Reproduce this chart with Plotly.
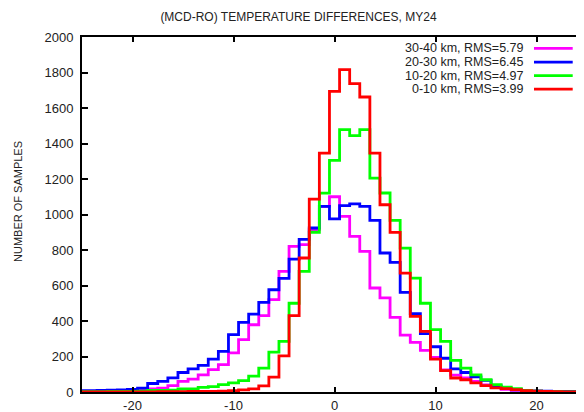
import plotly.graph_objects as go

bins = list(range(-25, 26))

km30_40 = [4, 4, 5, 5, 6, 7, 9, 17, 22, 36, 60, 73, 97, 126, 154, 220, 295, 379, 430, 520,
           680, 820, 830, 915, 1046, 1100, 990, 877, 792, 586, 530, 420, 320, 280, 235, 195,
           125, 95, 80, 60, 40, 25, 15, 10, 6, 4, 3, 2, 2, 1, 1]
km20_30 = [8, 8, 9, 10, 12, 14, 22, 48, 60, 80, 110, 130, 150, 185, 229, 323, 392, 439, 505, 576,
           640, 749, 860, 924, 1046, 975, 1050, 1060, 1046, 967, 783, 730, 561, 441, 329, 255,
           190, 130, 110, 85, 65, 35, 20, 12, 8, 6, 5, 4, 3, 3, 3]
km10_20 = [2, 2, 2, 3, 3, 4, 5, 9, 9, 10, 17, 18, 26, 30, 41, 51, 64, 90, 135, 225,
           285, 500, 680, 900, 1120, 1305, 1478, 1444, 1478, 1205, 1121, 967, 811, 642, 500, 351,
           285, 178, 135, 97, 69, 41, 28, 19, 9, 5, 3, 2, 1, 1, 1]
km0_10 = [1, 1, 1, 1, 1, 1, 1, 1, 2, 2, 2, 3, 3, 3, 5, 8, 12, 18, 35, 84,
          204, 430, 755, 1087, 1346, 1694, 1816, 1737, 1662, 1346, 1055, 899, 670, 426, 342, 185,
          120, 79, 69, 51, 36, 23, 19, 13, 8, 5, 3, 2, 1, 1, 1]

labels = ["30-40 km, RMS=5.79", "20-30 km, RMS=6.45", "10-20 km, RMS=4.97", "0-10 km, RMS=3.99"]
colors = ["#ff00ff", "#0000ff", "#00ff00", "#ff0000"]
series = [km30_40, km20_30, km10_20, km0_10]

title_text = "(MCD-RO) TEMPERATURE DIFFERENCES, MY24"
ytitle = "NUMBER OF SAMPLES"
xticks = [-20, -10, 0, 10, 20]
xticklabels = ["-20", "-10", "0", "10", "20"]
yticks = list(range(0, 2001, 200))

FONT = "Liberation Sans, Arial, Helvetica, sans-serif"
TXT = "#222222"

fig = go.Figure()
for vals, name, col in zip(series, labels, colors):
    fig.add_trace(go.Scatter(x=bins, y=vals, mode="lines", name=name,
                             line=dict(color=col, width=2.8, shape="hvh"),
                             showlegend=False))

# manual legend (text left, swatch right)
rows_y = [0.968, 0.929, 0.891, 0.853]
for name, col, yy in zip(labels, colors, rows_y):
    fig.add_annotation(x=0.884, y=yy, xref="paper", yref="paper", text=name,
                       showarrow=False, xanchor="right", yanchor="middle",
                       font=dict(family=FONT, size=12.5, color=TXT))
    fig.add_shape(type="line", xref="paper", yref="paper", x0=0.9004, x1=0.9775,
                  y0=yy, y1=yy, line=dict(color=col, width=2.8))

fig.add_annotation(x=-0.1275, y=0.538, xref="paper", yref="paper", text=ytitle,
                   showarrow=False, textangle=-90, xanchor="center", yanchor="middle",
                   font=dict(family=FONT, size=11, color=TXT))

# page body has an 8px margin: offset the figure layout accordingly
fig.update_layout(
    width=584, height=412,
    margin=dict(l=74, r=8, t=29, b=28, autoexpand=False),
    paper_bgcolor="white", plot_bgcolor="white",
    title=dict(text=title_text, x=290.5 / 584, xref="container", xanchor="center",
               y=1 - 9 / 412, yref="container", yanchor="middle",
               font=dict(family=FONT, size=12, color=TXT)),
    xaxis=dict(range=[-25, 24.7], tickvals=xticks, ticktext=xticklabels,
               ticks="inside", ticklen=5, tickwidth=2,
               tickcolor="black", showline=True, linecolor="black", linewidth=2,
               mirror="ticks", showgrid=False, zeroline=False, automargin=False,
               tickfont=dict(family=FONT, size=13, color=TXT)),
    yaxis=dict(range=[0, 2000], tickvals=yticks, ticks="inside", ticklen=6, tickwidth=2,
               tickcolor="black", showline=True, linecolor="black", linewidth=2,
               mirror=False, showgrid=False, zeroline=False, automargin=False,
               ticklabelstandoff=4,
               tickfont=dict(family=FONT, size=13, color=TXT)),
    yaxis2=dict(range=[0, 2000], tickvals=yticks, ticks="inside", ticklen=6, tickwidth=2,
                tickcolor="black", overlaying="y", side="right", showline=False,
                showticklabels=False, showgrid=False, zeroline=False),
    font=dict(family=FONT, color=TXT),
)

fig.write_html("out.html")
